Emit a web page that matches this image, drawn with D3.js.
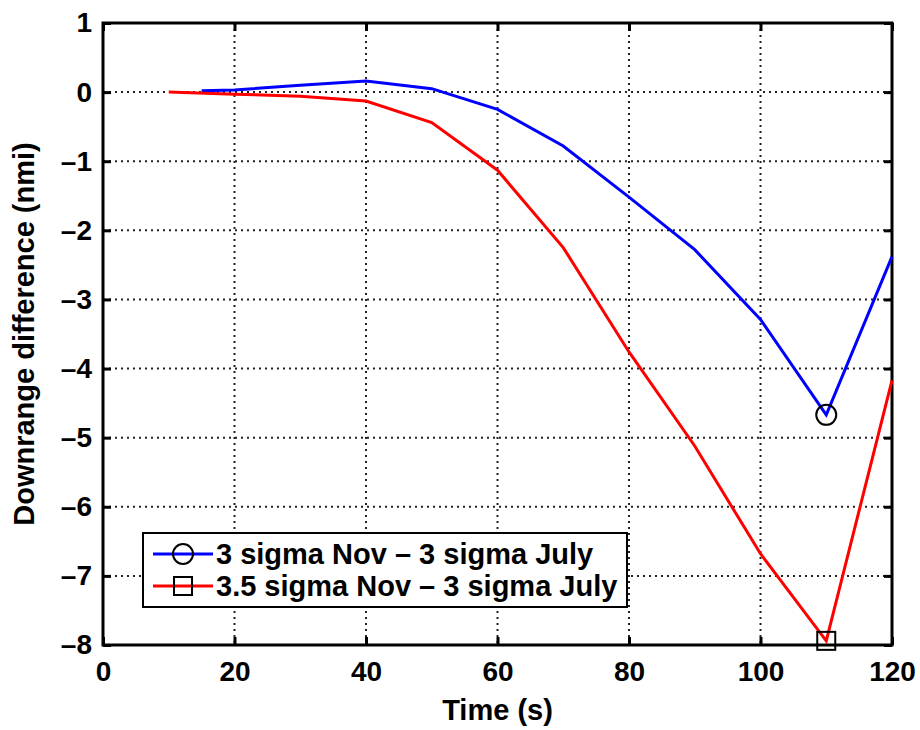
<!DOCTYPE html>
<html>
<head>
<meta charset="utf-8">
<script src="https://cdn.jsdelivr.net/npm/d3@7"></script>
<style>
  body { margin: 0; background: #fff; }
  text { font-family: "Liberation Sans", Arial, sans-serif; font-weight: bold; }
</style>
</head>
<body>
<div id="chart"></div>
<script>
// data
var timeBlue = [15, 20, 30, 40, 50, 60, 70, 80, 90, 100, 110, 120]
var diffBlue = [0.02, 0.03, 0.1, 0.16, 0.05, -0.25, -0.78, -1.52, -2.28, -3.29, -4.67, -2.38]
var timeRed = [10, 20, 30, 40, 50, 60, 70, 80, 90, 100, 110, 120]
var diffRed = [0, -0.03, -0.06, -0.13, -0.44, -1.13, -2.25, -3.76, -5.12, -6.68, -7.94, -4.17]
var xTicks = [0, 20, 40, 60, 80, 100, 120]
var yTicks = [1, 0, -1, -2, -3, -4, -5, -6, -7, -8]
var seriesNames = ["3 sigma Nov \u2013 3 sigma July", "3.5 sigma Nov \u2013 3 sigma July"]
var markerIndex = 10 // marked point at t = 110

var W = 920, H = 730
var margin = {left: 103, right: 28, top: 23, bottom: 85}

var svg = d3.select("#chart").append("svg").attr("width", W).attr("height", H)

var x = d3.scaleLinear().domain([0, 120]).range([margin.left, W - margin.right])
var y = d3.scaleLinear().domain([-8, 1]).range([H - margin.bottom, margin.top])

// grid
svg.append("g").selectAll("line").data(xTicks.slice(1, -1)).join("line")
    .attr("x1", d => x(d)).attr("x2", d => x(d))
    .attr("y1", y(1)).attr("y2", y(-8))
    .attr("stroke", "#222").attr("stroke-width", 2).attr("stroke-dasharray", "2,4")
svg.append("g").selectAll("line").data(yTicks.slice(1, -1)).join("line")
    .attr("y1", d => y(d)).attr("y2", d => y(d))
    .attr("x1", x(0)).attr("x2", x(120))
    .attr("stroke", "#222").attr("stroke-width", 2).attr("stroke-dasharray", "2,4")

// axes with inward ticks
var xAxis = svg.append("g").attr("transform", "translate(0," + y(-8) + ")")
    .call(d3.axisBottom(x).tickValues(xTicks).tickSizeInner(-8).tickSizeOuter(0).tickPadding(16))
var xTop = svg.append("g").attr("transform", "translate(0," + y(1) + ")")
    .call(d3.axisTop(x).tickValues(xTicks).tickSizeInner(-8).tickSizeOuter(0).tickFormat(""))
var yAxis = svg.append("g").attr("transform", "translate(" + x(0) + ",0)")
    .call(d3.axisLeft(y).tickValues(yTicks).tickSizeInner(-8).tickSizeOuter(0).tickPadding(11)
        .tickFormat(d => d < 0 ? "\u2013" + Math.abs(d) : d))
var yRight = svg.append("g").attr("transform", "translate(" + x(120) + ",0)")
    .call(d3.axisRight(y).tickValues(yTicks).tickSizeInner(-8).tickSizeOuter(0).tickFormat(""))

;[xAxis, xTop, yAxis, yRight].forEach(function(g) {
  g.select(".domain").remove()
  g.selectAll(".tick line").attr("stroke", "#000").attr("stroke-width", 3)
  g.selectAll("text").attr("font-size", 28).attr("fill", "#000")
    .style("font-family", "'Liberation Sans', Arial, sans-serif").style("font-weight", "bold")
})

// frame
svg.append("rect")
    .attr("x", x(0)).attr("y", y(1))
    .attr("width", x(120) - x(0)).attr("height", y(-8) - y(1))
    .attr("fill", "none").attr("stroke", "#000").attr("stroke-width", 3)

// lines
var line = d3.line().x(d => x(d[0])).y(d => y(d[1]))
svg.append("path")
    .attr("d", line(d3.zip(timeBlue, diffBlue)))
    .attr("fill", "none").attr("stroke", "#0000ff").attr("stroke-width", 3)
svg.append("path")
    .attr("d", line(d3.zip(timeRed, diffRed)))
    .attr("fill", "none").attr("stroke", "#ff0000").attr("stroke-width", 3)

// markers
svg.append("circle")
    .attr("cx", x(timeBlue[markerIndex])).attr("cy", y(diffBlue[markerIndex]))
    .attr("r", 10).attr("fill", "none").attr("stroke", "#000").attr("stroke-width", 2)
svg.append("rect")
    .attr("x", x(timeRed[markerIndex]) - 9).attr("y", y(diffRed[markerIndex]) - 9)
    .attr("width", 18).attr("height", 18)
    .attr("fill", "none").attr("stroke", "#000").attr("stroke-width", 2)

// axis titles
svg.append("text")
    .attr("x", (x(0) + x(120)) / 2).attr("y", 720)
    .attr("text-anchor", "middle").attr("font-size", 29)
    .text("Time (s)")
svg.append("text")
    .attr("transform", "translate(34," + ((y(1) + y(-8)) / 2) + ") rotate(-90)")
    .attr("text-anchor", "middle").attr("font-size", 29)
    .text("Downrange difference (nmi)")

// legend
var lg = svg.append("g").attr("transform", "translate(143,533)")
lg.append("rect").attr("width", 484).attr("height", 74)
    .attr("fill", "#fff").attr("stroke", "#000").attr("stroke-width", 2)
var colors = ["#0000ff", "#ff0000"]
seriesNames.forEach(function(name, i) {
  var cy = 21 + i * 32
  lg.append("line").attr("x1", 10).attr("x2", 70).attr("y1", cy).attr("y2", cy)
      .attr("stroke", colors[i]).attr("stroke-width", 3)
  if (i === 0) {
    lg.append("circle").attr("cx", 40).attr("cy", cy).attr("r", 10)
        .attr("fill", "none").attr("stroke", "#000").attr("stroke-width", 2)
  } else {
    lg.append("rect").attr("x", 31).attr("y", cy - 9).attr("width", 18).attr("height", 18)
        .attr("fill", "none").attr("stroke", "#000").attr("stroke-width", 2)
  }
  lg.append("text").attr("x", 73).attr("y", cy + 10).attr("font-size", 29).text(name)
})
</script>
</body>
</html>
